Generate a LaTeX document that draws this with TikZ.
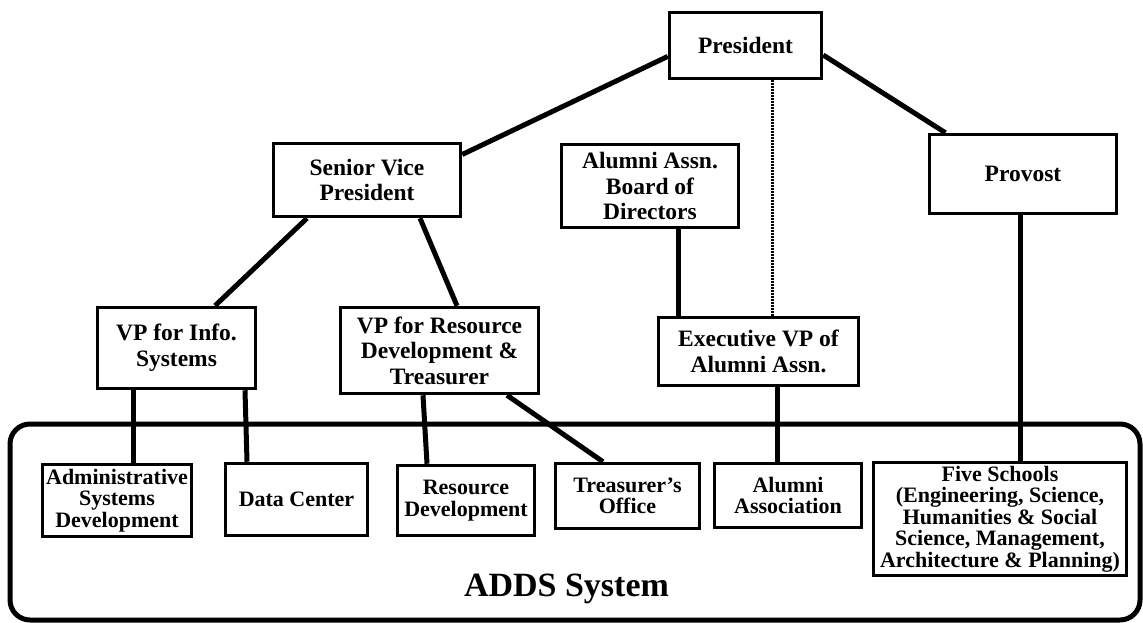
\documentclass[tikz,border=0pt]{standalone}
\usepackage{fontspec}
\setmainfont{Liberation Serif}
\usetikzlibrary{backgrounds}

\begin{document}
\begin{tikzpicture}[x=1pt,y=-1pt,
		unit/.style={draw,line width=3.5pt,fill=white,align=center,inner sep=1pt,font=\fontsize{23.5}{25.5}\selectfont\bfseries},
		office/.style={unit,font=\fontsize{22}{21.5}\selectfont\bfseries},
		link/.style={line width=5pt},
		staff/.style={line width=3pt,dash pattern=on 2pt off 1pt}]
		
		\useasboundingbox (0,0) rectangle (1143,623);
		
		% upper offices
		\node[unit,minimum width=152pt,minimum height=66pt] (pres) at (745.5,45.5) {President};
		\node[unit,minimum width=187pt,minimum height=73pt] (svp) at (367,180) {Senior Vice\\President};
		\node[unit,minimum width=177pt,minimum height=83pt] (board) at (650,186) {Alumni Assn.\\Board of\\Directors};
		\node[unit,minimum width=187pt,minimum height=79pt] (provost) at (1023,174) {Provost};
		\node[unit,minimum width=158pt,minimum height=81pt] (vpinfo) at (176.5,348) {VP for Info.\\Systems};
		\node[unit,minimum width=198pt,minimum height=86pt] (vpres) at (439.5,350.5) {VP for Resource\\Development \&\\Treasurer};
		\node[unit,minimum width=200pt,minimum height=68pt] (execvp) at (758.5,351.5) {Executive VP of\\Alumni Assn.};
		
		% offices inside the ADDS system
		\node[office,minimum width=149pt,minimum height=72pt] (admin) at (117,500.5) {Administrative\\Systems\\Development};
		\node[office,minimum width=142pt,minimum height=72pt] (datac) at (296.5,499.5) {Data Center};
		\node[office,minimum width=137pt,minimum height=70pt] (resdev) at (466,500.5) {Resource\\Development};
		\node[office,minimum width=144pt,minimum height=65pt] (treas) at (627.5,496) {Treasurer's\\Office};
		\node[office,minimum width=147pt,minimum height=64pt] (alumni) at (788,495.5) {Alumni\\Association};
		\node[office,minimum width=253pt,minimum height=113pt] (five) at (1000,519) {Five Schools\\(Engineering, Science,\\Humanities \& Social\\Science, Management,\\Architecture \& Planning)};
		
		\node (adds) at (566.5,589) {\fontsize{34}{34}\selectfont\bfseries ADDS System};
		
		\begin{pgfonlayer}{background}
			% system frame
			\draw[line width=5pt,rounded corners=20pt] (10,424) rectangle (1140,620);
			
			% reporting lines
			\draw[link] (pres.188) -- (svp.15);
			\draw[link] (pres.-7) -- (provost.152);
			\draw[staff] ([xshift=27pt]pres.south) -- ([xshift=27pt]pres.south |- execvp.north);
			\draw[link] ([xshift=28pt]board.south) -- ([xshift=28pt]board.south |- execvp.north);
			\draw[link] ([xshift=-60pt]svp.south) -- ([xshift=38.5pt]vpinfo.north);
			\draw[link] ([xshift=53pt]svp.south) -- ([xshift=17.5pt]vpres.north);
			\draw[link] ([xshift=-43.5pt]vpinfo.south) -- ([xshift=16pt]admin.north);
			\draw[link] ([xshift=68.5pt]vpinfo.south) -- ([xshift=-49.5pt]datac.north);
			\draw[link] ([xshift=-16.5pt]vpres.south) -- ([xshift=-39pt]resdev.north);
			\draw[link] ([xshift=67.5pt]vpres.south) -- ([xshift=-24.5pt]treas.north);
			\draw[link] ([xshift=18.5pt]execvp.south) -- ([xshift=-11pt]alumni.north);
			\draw[link] ([xshift=-3pt]provost.south) -- ([xshift=20pt]five.north);
		\end{pgfonlayer}
	\end{tikzpicture}
\end{document}
